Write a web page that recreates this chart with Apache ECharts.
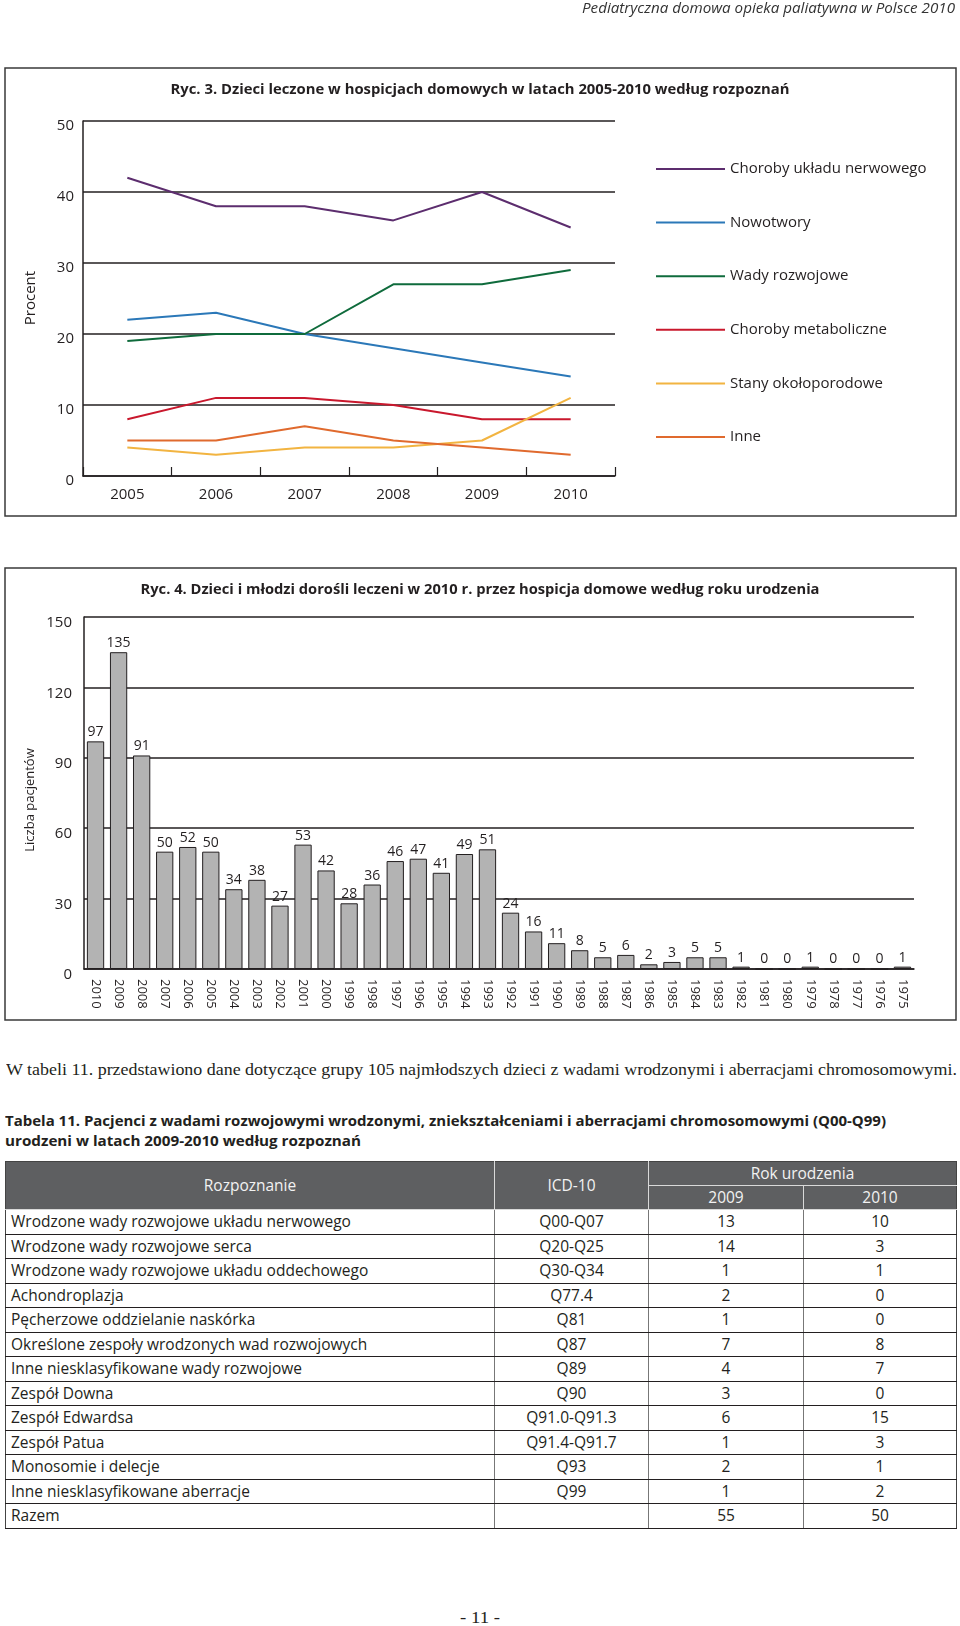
<!DOCTYPE html>
<html><head><meta charset="utf-8">
<script src="https://cdn.jsdelivr.net/npm/echarts@6/dist/echarts.min.js"></script>
<style>
html,body{margin:0;padding:0;background:#fff;}
body{width:960px;height:1626px;overflow:hidden;position:relative;font-family:'Open Sans',sans-serif;color:#231f20;}
#chart{position:absolute;left:0;top:0;width:960px;height:1030px;}
.fit{position:absolute;white-space:nowrap;transform-origin:0 50%;}
#hdr{font-style:italic;font-size:14px;color:#333;}
#para{font-family:'Liberation Serif',serif;font-size:17px;}
.ttl{font-weight:bold;font-size:15px;}
#foot{font-family:'Liberation Serif',serif;font-size:17px;}
#tbl{position:absolute;left:5px;top:1161px;width:951px;border-collapse:collapse;table-layout:fixed;font-size:15.5px;}
#tbl td,#tbl th{padding:0;height:23.5px;line-height:23px;white-space:nowrap;overflow:hidden;}
#tbl th{background:#5e5f61;color:#f2f2f2;font-weight:normal;border:1px solid #d9d9d9;height:23px;}
#tbl thead tr:first-child th{border-top:1px solid #444;}
#tbl th.first{border-left:1px solid #444;}
#tbl th.last{border-right:1px solid #444;}
#tbl td{border-top:1px solid #231f20;border-bottom:1px solid #231f20;border-left:1px solid #777;border-right:1px solid #777;text-align:center;}
#tbl td.name{text-align:left;padding-left:5px;border-left:1px solid #444;}
#tbl td.lastc{border-right:1px solid #444;}
</style></head>
<body>
<div id="chart"></div>
<div id="hdr" class="fit" data-w="373" data-right="955" data-cy="7">Pediatryczna domowa opieka paliatywna w Polsce 2010</div>
<div id="para" class="fit" data-w="951" data-left="6" data-cy="1070">W tabeli 11. przedstawiono dane dotyczące grupy 105 najmłodszych dzieci z wadami wrodzonymi i aberracjami chromosomowymi.</div>
<div class="fit ttl" data-w="881" data-left="5" data-cy="1120">Tabela 11. Pacjenci z wadami rozwojowymi wrodzonymi, zniekształceniami i aberracjami chromosomowymi (Q00-Q99)</div>
<div class="fit ttl" data-w="356" data-left="5" data-cy="1140">urodzeni w latach 2009-2010 według rozpoznań</div>
<table id="tbl"></table>
<div id="foot" class="fit" data-w="40" data-left="460" data-cy="1618">- 11 -</div>
<script>
// ---- Ryc. 3 data ----
const lineYears = ['2005', '2006', '2007', '2008', '2009', '2010'];
const lineNames = ['Choroby układu nerwowego', 'Nowotwory', 'Wady rozwojowe', 'Choroby metaboliczne', 'Stany okołoporodowe', 'Inne'];
const nerwowe = [42, 38, 38, 36, 40, 35];
const nowotwory = [22, 23, 20, 18, 16, 14];
const wadyRozwojowe = [19, 20, 20, 27, 27, 29];
const metaboliczne = [8, 11, 11, 10, 8, 8];
const okoloporodowe = [4, 3, 4, 4, 5, 11];
const inne = [5, 5, 7, 5, 4, 3];
const lineColors = ['#5c2d6e', '#2b78b8', '#0f6b3c', '#c9182d', '#f2b441', '#e06a2e'];

// ---- Ryc. 4 data ----
const birthYears = ['2010', '2009', '2008', '2007', '2006', '2005', '2004', '2003', '2002', '2001', '2000', '1999',
  '1998', '1997', '1996', '1995', '1994', '1993', '1992', '1991', '1990', '1989', '1988', '1987',
  '1986', '1985', '1984', '1983', '1982', '1981', '1980', '1979', '1978', '1977', '1976', '1975'];
const patients = [97, 135, 91, 50, 52, 50, 34, 38, 27, 53, 42, 28,
  36, 46, 47, 41, 49, 51, 24, 16, 11, 8, 5, 6,
  2, 3, 5, 5, 1, 0, 0, 1, 0, 0, 0, 1];

// ---- Tabela 11 data ----
const tableHeader = ['Rozpoznanie', 'ICD-10', 'Rok urodzenia', '2009', '2010'];
const diagnoses = ['Wrodzone wady rozwojowe układu nerwowego', 'Wrodzone wady rozwojowe serca',
  'Wrodzone wady rozwojowe układu oddechowego', 'Achondroplazja', 'Pęcherzowe oddzielanie naskórka',
  'Określone zespoły wrodzonych wad rozwojowych', 'Inne niesklasyfikowane wady rozwojowe', 'Zespół Downa',
  'Zespół Edwardsa', 'Zespół Patua', 'Monosomie i delecje', 'Inne niesklasyfikowane aberracje', 'Razem'];
const icdCodes = ['Q00-Q07', 'Q20-Q25', 'Q30-Q34', 'Q77.4', 'Q81', 'Q87', 'Q89', 'Q90', 'Q91.0-Q91.3', 'Q91.4-Q91.7', 'Q93', 'Q99', ''];
const born2009 = [13, 14, 1, 2, 1, 7, 4, 3, 6, 1, 2, 1, 55];
const born2010 = [10, 3, 1, 0, 0, 8, 7, 0, 15, 3, 1, 2, 50];

const title3 = 'Ryc. 3. Dzieci leczone w hospicjach domowych w latach 2005-2010 według rozpoznań';
const title4 = 'Ryc. 4. Dzieci i młodzi dorośli leczeni w 2010 r. przez hospicja domowe według roku urodzenia';

// build table
(function () {
  const t = document.getElementById('tbl');
  let h = '<colgroup><col style="width:489px"><col style="width:154px"><col style="width:155px"><col style="width:153px"></colgroup>';
  h += '<thead><tr><th class="first" rowspan="2">' + tableHeader[0] + '</th><th rowspan="2">' + tableHeader[1] +
    '</th><th class="last" colspan="2">' + tableHeader[2] + '</th></tr><tr><th>' + tableHeader[3] + '</th><th class="last">' + tableHeader[4] + '</th></tr></thead><tbody>';
  for (let i = 0; i < diagnoses.length; i++) {
    h += '<tr><td class="name">' + diagnoses[i] + '</td><td>' + icdCodes[i] + '</td><td>' + born2009[i] + '</td><td class="lastc">' + born2010[i] + '</td></tr>';
  }
  h += '</tbody>';
  t.innerHTML = h;
})();

// fit text blocks
document.querySelectorAll('.fit').forEach(function (el) {
  const w = el.getBoundingClientRect().width;
  const target = +el.dataset.w;
  const hgt = el.getBoundingClientRect().height;
  el.style.top = (+el.dataset.cy - hgt / 2) + 'px';
  const s = target / w;
  if (el.dataset.right) {
    el.style.left = (+el.dataset.right - target) + 'px';
  } else {
    el.style.left = el.dataset.left + 'px';
  }
  el.style.transform = 'scaleX(' + s + ')';
});

const FF = "'Open Sans', sans-serif";
const ink = '#231f20';
const mctx = document.createElement('canvas').getContext('2d');
function tw(str, font) { mctx.font = font; return mctx.measureText(str).width; }
const titleFont = "bold 15px 'Open Sans'";

const chart = echarts.init(document.getElementById('chart'), null, { renderer: 'canvas' });
const lineData = [nerwowe, nowotwory, wadyRozwojowe, metaboliczne, okoloporodowe, inne];

const option = {
  animation: false,
  backgroundColor: '#fff',
  textStyle: { fontFamily: FF },
  grid: [
    { left: 83, top: 121, width: 532, height: 355, outerBoundsMode: 'none' },
    { left: 84, top: 617, width: 830, height: 352, outerBoundsMode: 'none' }
  ],
  legend: {
    data: lineNames, orient: 'vertical', left: 656, top: 161, padding: 0,
    itemWidth: 69, itemHeight: 2, itemGap: 37.6, icon: 'rect', selectedMode: false,
    textStyle: { fontSize: 15, color: ink, lineHeight: 16, fontFamily: FF }
  },
  xAxis: [
    {
      type: 'category', gridIndex: 0, data: lineYears, boundaryGap: true,
      axisLine: { lineStyle: { color: ink, width: 1.5 } },
      axisTick: { show: true, inside: true, length: 9, lineStyle: { color: ink, width: 1.2 } },
      axisLabel: { fontSize: 15, color: ink, margin: 11, fontFamily: FF },
      splitLine: { show: false }
    },
    {
      type: 'category', gridIndex: 1, data: birthYears, boundaryGap: true,
      axisLine: { lineStyle: { color: ink, width: 1.5 } },
      axisTick: { show: false },
      axisLabel: { interval: 0, rotate: -90, fontSize: 13, color: ink, margin: 10, fontFamily: FF },
      splitLine: { show: false }
    }
  ],
  yAxis: [
    {
      type: 'value', gridIndex: 0, min: 0, max: 50, interval: 10,
      axisLine: { show: true, lineStyle: { color: ink, width: 1.5 } },
      axisTick: { show: false },
      splitLine: { show: true, lineStyle: { color: ink, width: 1.5 } },
      axisLabel: { fontSize: 15, color: ink, margin: 9, verticalAlign: 'top', lineHeight: 10, fontFamily: FF }
    },
    {
      type: 'value', gridIndex: 1, min: 0, max: 150, interval: 30,
      axisLine: { show: true, lineStyle: { color: ink, width: 1.5 } },
      axisTick: { show: false },
      splitLine: { show: true, lineStyle: { color: ink, width: 1.5 } },
      axisLabel: { fontSize: 15, color: ink, margin: 12, verticalAlign: 'top', lineHeight: 12, fontFamily: FF }
    }
  ],
  series: lineNames.map(function (n, i) {
    return {
      name: n, type: 'line', xAxisIndex: 0, yAxisIndex: 0, data: lineData[i],
      symbol: 'none', color: lineColors[i], lineStyle: { width: 2, color: lineColors[i] }
    };
  }).concat([{
    name: 'Liczba pacjentów', type: 'bar', xAxisIndex: 1, yAxisIndex: 1, data: patients,
    barWidth: '75%',
    itemStyle: { color: '#b3b3b3', borderColor: ink, borderWidth: 1 },
    label: { show: true, position: 'top', distance: 2, fontSize: 14, color: ink, fontFamily: FF }
  }]),
  graphic: [
    { type: 'rect', shape: { x: 5, y: 68, width: 951, height: 448 }, style: { fill: 'none', stroke: '#3a3a3a', lineWidth: 1.5 }, silent: true },
    { type: 'rect', shape: { x: 5, y: 568, width: 951, height: 452 }, style: { fill: 'none', stroke: '#3a3a3a', lineWidth: 1.5 }, silent: true },
    { type: 'text', x: 480, y: 90, scaleX: 619 / tw(title3, titleFont), style: { text: title3, font: titleFont, fill: ink, align: 'center', verticalAlign: 'middle' } },
    { type: 'text', x: 480, y: 590, scaleX: 679 / tw(title4, titleFont), style: { text: title4, font: titleFont, fill: ink, align: 'center', verticalAlign: 'middle' } },
    { type: 'text', x: 31, y: 298, rotation: Math.PI / 2, style: { text: 'Procent', font: "15px 'Open Sans'", fill: ink, align: 'center', verticalAlign: 'middle' } },
    { type: 'text', x: 30, y: 800, rotation: Math.PI / 2, style: { text: 'Liczba pacjentów', font: "13px 'Open Sans'", fill: ink, align: 'center', verticalAlign: 'middle' } }
  ]
};
chart.setOption(option);
</script>
</body></html>
